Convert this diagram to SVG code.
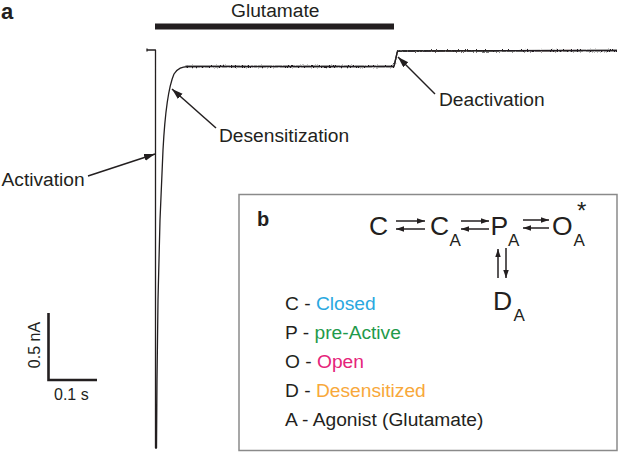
<svg xmlns="http://www.w3.org/2000/svg" width="622" height="452" viewBox="0 0 622 452">
<style>
text{font-family:"Liberation Sans",Arial,sans-serif;fill:#231f20}
.lbl{font-size:19.2px}
.bold{font-weight:bold}
.trace{fill:none;stroke:#231f20;stroke-width:1.3;stroke-linejoin:round}
.arr{stroke:#231f20;stroke-width:1.5;fill:none}
.big{font-size:26.5px}
.sub{font-size:17px}
</style>
<defs>
<marker id="ah" markerUnits="userSpaceOnUse" markerWidth="12" markerHeight="8" refX="11" refY="3.5" orient="auto">
<path d="M0,0 L11,3.5 L0,7 z" fill="#231f20"/>
</marker>
<marker id="ak" markerUnits="userSpaceOnUse" markerWidth="9" markerHeight="6" refX="8" refY="2.75" orient="auto">
<path d="M0,0 L8,2.75 L0,5.5 z" fill="#231f20"/>
</marker>
<filter id="noise" filterUnits="userSpaceOnUse" x="0" y="0" width="622" height="452">
<feTurbulence type="fractalNoise" baseFrequency="1.2 0.8" numOctaves="2" seed="4" result="t"/>
<feDisplacementMap in="SourceGraphic" in2="t" scale="3.5" xChannelSelector="R" yChannelSelector="G"/>
</filter>
</defs>

<g id="panel-a">
<text x="1" y="18.5" class="bold" font-size="22">a</text>
<g id="glutamate-bar">
<text x="231" y="17" class="lbl">Glutamate</text>
<rect x="155" y="23.5" width="239" height="6" fill="#231f20"/>
</g>
<g id="trace">
<path class="trace" d="M147,48.5 L147,51.5 M147,50 L155.5,50 L155.5,448 L156.5,448 L157,380 L158,300 L160,220 L163,150 C165,112 168,88 174,74 C178,68 182,67 188,66.5"/>
<path class="trace" stroke-width="1.4" d="M186,66.5 L394,66.5 L397.5,51 L617,50.5"/>
<g filter="url(#noise)">
<path class="trace" stroke-width="2.2" d="M186,66.5 L394,66.5 L397.5,51 L617,50.5"/>
</g>
</g>
<g id="scale-bar">
<path d="M48.5,313 L48.5,380 L97,380" fill="none" stroke="#231f20" stroke-width="2.6"/>
<text transform="translate(39.5,345) rotate(-90)" text-anchor="middle" font-size="16">0.5 nA</text>
<text x="54" y="400" font-size="16">0.1 s</text>
</g>
</g>

<g id="annotations">
<path class="arr" d="M88,176 L155,154" marker-end="url(#ah)"/>
<path class="arr" d="M216,128 L172,89" marker-end="url(#ah)"/>
<path class="arr" d="M435,94 L398,57" marker-end="url(#ah)"/>
<text x="1.5" y="186" class="lbl">Activation</text>
<text x="219" y="141.5" class="lbl">Desensitization</text>
<text x="439" y="106" class="lbl">Deactivation</text>
</g>

<g id="panel-b">
<rect x="239" y="194.5" width="378" height="256" fill="#fff" stroke="#8a8a8a" stroke-width="1.5"/>
<text x="257" y="226" class="bold" font-size="20">b</text>

<g id="node-C"><text x="369" y="235" class="big">C</text></g>
<g id="node-CA"><text x="430" y="235" class="big">C</text><text x="449.5" y="245.5" class="sub">A</text></g>
<g id="node-PA"><text x="490.5" y="235" class="big">P</text><text x="508" y="245.5" class="sub">A</text></g>
<g id="node-OA"><text x="552" y="235" class="big">O</text><text x="573.5" y="245.5" class="sub">A</text><text x="577" y="219" font-size="24">*</text></g>
<g id="node-DA"><text x="493" y="310" class="big">D</text><text x="513.5" y="320.5" class="sub">A</text></g>

<g id="connectors">
<path class="arr" d="M396,221 L425,221" marker-end="url(#ak)"/>
<path class="arr" d="M425,229 L396,229" marker-end="url(#ak)"/>
<path class="arr" d="M461,221 L489,221" marker-end="url(#ak)"/>
<path class="arr" d="M489,229 L461,229" marker-end="url(#ak)"/>
<path class="arr" d="M523,220 L549,220" marker-end="url(#ak)"/>
<path class="arr" d="M549,228 L523,228" marker-end="url(#ak)"/>
<path class="arr" d="M498,278 L498,249" marker-end="url(#ak)"/>
<path class="arr" d="M506,248 L506,278" marker-end="url(#ak)"/>
</g>

<g id="legend" class="lbl">
<text x="285" y="310">C - <tspan style="fill:#2aa8e0">Closed</tspan></text>
<text x="285" y="339">P - <tspan style="fill:#1f9a4b">pre-Active</tspan></text>
<text x="285" y="368">O - <tspan style="fill:#e5237a">Open</tspan></text>
<text x="285" y="397">D - <tspan style="fill:#f8a83a">Desensitized</tspan></text>
<text x="285" y="426">A - Agonist (Glutamate)</text>
</g>
</g>
</svg>
